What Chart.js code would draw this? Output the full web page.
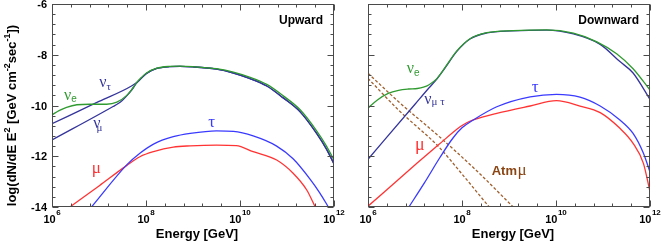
<!DOCTYPE html>
<html>
<head>
<meta charset="utf-8">
<script src="https://cdn.jsdelivr.net/npm/chart.js"></script>
<style>
html,body{margin:0;padding:0;background:#fff;}
#wrap{position:relative;width:664px;height:243px;}
canvas{position:absolute;left:0;top:0;}
</style>
</head>
<body>
<div id="wrap">
<canvas id="up" width="664" height="243"></canvas>
<canvas id="down" width="664" height="243"></canvas>
</div>
<script>
// ---------- DATA (x = log10 Energy [GeV], y = log10 flux) ----------
const xTickValues = [6, 8, 10, 12];
const xTickBase = ['10', '10', '10', '10'];
const xTickExp = ['6', '8', '10', '12'];
const yTickValues = [-14, -12, -10, -8, -6];
const yTickLabels = ['-14', '-12', '-10', '-8', '-6'];

// Upward panel
const upNuE_x = [6.0, 6.15, 6.31, 6.53, 6.81, 7.16, 7.38, 7.59, 7.70, 7.80, 7.90, 8.01, 8.23, 8.5, 8.72, 9.0, 9.5, 9.86, 10.2, 10.57, 10.92, 11.28, 11.63, 11.84, 12.0];
const upNuE_y = [-10.37, -10.2, -10.07, -9.97, -9.95, -9.95, -9.87, -9.6, -9.36, -9.1, -8.9, -8.72, -8.53, -8.46, -8.45, -8.47, -8.55, -8.68, -8.88, -9.17, -9.62, -10.17, -11.0, -11.6, -12.15];
const upNuTau_x = [6.0, 7.0, 7.7, 7.85, 8.01];
const upNuTau_y = [-10.72, -9.84, -9.22, -9.02, -8.74];
const upNuMu_x = [6.0, 7.3, 7.41, 7.5, 7.59, 7.70, 7.80, 7.90, 8.01];
const upNuMu_y = [-11.36, -10.04, -9.92, -9.79, -9.62, -9.38, -9.12, -8.92, -8.74];
const upNuTail_x = [8.23, 8.5, 8.72, 9.0, 9.5, 9.86, 10.2, 10.57, 10.92, 11.28, 11.63, 11.84, 12.0];
const upNuTail_y = [-8.54, -8.47, -8.46, -8.48, -8.57, -8.72, -8.93, -9.23, -9.70, -10.25, -11.10, -11.72, -12.3];
const upTau_x = [6.84, 7.6, 7.87, 8.16, 8.58, 8.94, 9.5, 9.86, 10.28, 10.78, 11.13, 11.49, 11.70, 11.88];
const upTau_y = [-14.0, -12.32, -11.88, -11.52, -11.23, -11.1, -11.0, -11.02, -11.2, -11.6, -12.1, -12.9, -13.45, -14.0];
const upMu_x = [6.38, 7.0, 7.6, 7.87, 8.16, 8.58, 8.94, 9.5, 9.92, 10.28, 10.78, 11.13, 11.42, 11.60];
const upMu_y = [-14.0, -13.17, -12.35, -12.02, -11.82, -11.64, -11.59, -11.56, -11.58, -11.82, -12.15, -12.67, -13.33, -14.0];

// Downward panel
const downNuE_x = [6.0, 6.2, 6.43, 6.65, 6.86, 7.05, 7.18, 7.3, 7.46, 7.64, 7.89, 8.17, 8.53, 9.09, 9.8, 10.37, 10.87, 11.29, 11.64, 12.0];
const downNuE_y = [-10.1, -9.78, -9.52, -9.40, -9.35, -9.33, -9.28, -9.18, -8.95, -8.5, -7.85, -7.37, -7.13, -7.05, -7.02, -7.15, -7.49, -7.96, -8.55, -9.39];
const downNuMuTau_x = [6.0, 7.0, 7.3, 7.46, 7.64, 7.89, 8.17, 8.53, 9.09, 9.8, 10.37, 10.94, 11.36, 11.64, 12.0];
const downNuMuTau_y = [-12.12, -9.95, -9.3, -8.97, -8.52, -7.87, -7.38, -7.14, -7.06, -7.03, -7.18, -7.59, -8.27, -8.72, -9.76];
const downTau_x = [6.87, 7.2, 7.53, 7.8, 8.0, 8.24, 8.74, 9.45, 10.01, 10.51, 10.94, 11.36, 11.64, 11.86, 12.0];
const downTau_y = [-14.0, -13.05, -12.05, -11.3, -10.88, -10.57, -10.05, -9.66, -9.56, -9.67, -10.02, -10.57, -11.1, -11.88, -12.62];
const downMu_x = [6.0, 7.04, 7.5, 7.96, 8.1, 8.24, 8.74, 9.45, 10.01, 10.51, 10.94, 11.36, 11.64, 11.86, 12.0];
const downMu_y = [-13.97, -12.28, -11.55, -10.84, -10.68, -10.57, -10.31, -10.02, -9.81, -10.02, -10.28, -10.9, -11.49, -12.28, -13.4];
const atmMuHigh_x = [6.0, 6.65, 7.5, 8.3, 9.09, 9.2];
const atmMuHigh_y = [-8.73, -9.85, -11.2, -12.55, -14.0, -14.2];
const atmMuLow_x = [6.0, 6.65, 7.5, 8.0, 8.58, 8.65];
const atmMuLow_y = [-8.93, -10.18, -11.62, -12.7, -14.0, -14.15];

// ---------- STYLE ----------
const SANS = "'Liberation Sans', Arial, Helvetica, sans-serif";
const SERIF = "'Liberation Serif', 'Times New Roman', serif";
const C_GREEN = '#2f9a2f';
const C_NAVY = '#34349c';
const C_BLUE = '#3a3aff';
const C_RED = '#ff3333';
const C_BROWN = '#a0602f';
const C_FRAME = '#4a4a4a';

function pts(xs, ys) { return xs.map((x, i) => ({x: x, y: ys[i]})); }
function ds(xs, ys, color, dash) {
  return {
    data: pts(xs, ys), borderColor: color, borderWidth: 1.3,
    borderDash: dash || [], pointRadius: 0, fill: false,
    cubicInterpolationMode: 'monotone'
  };
}

const framePlugin = {
  id: 'frame',
  afterDraw(chart, args, o) {
    const {ctx, chartArea: a, scales: {x, y}} = chart;
    ctx.save();
    ctx.strokeStyle = C_FRAME;
    ctx.lineWidth = 1;
    const L = Math.round(a.left) + 0.5, R = Math.round(a.right) - 0.5;
    const T = Math.round(a.top) + 0.5, B = Math.round(a.bottom) - 0.5;
    ctx.strokeRect(L, T, R - L, B - T);
    ctx.beginPath();
    for (let k = 0; k <= 15; k++) {
      const v = 6 + 0.4 * k;
      const len = (k % 5 === 0) ? 6 : 3;
      const px = Math.round(x.getPixelForValue(v)) + 0.5;
      ctx.moveTo(px, B); ctx.lineTo(px, B - len);
      ctx.moveTo(px, T); ctx.lineTo(px, T + len);
    }
    for (let k = 0; k <= 20; k++) {
      const v = -14 + 0.4 * k;
      const len = (k % 5 === 0) ? 6 : 3;
      const py = Math.round(y.getPixelForValue(v)) + 0.5;
      ctx.moveTo(L, py); ctx.lineTo(L + len, py);
      ctx.moveTo(R, py); ctx.lineTo(R - len, py);
    }
    ctx.stroke();

    ctx.fillStyle = '#000';
    ctx.textAlign = 'left';
    ctx.textBaseline = 'alphabetic';
    // x tick labels with superscripts
    xTickValues.forEach((v, i) => {
      const px = x.getPixelForValue(v);
      ctx.font = 'bold 11px ' + SANS;
      const wb = ctx.measureText(xTickBase[i]).width;
      ctx.font = 'bold 8px ' + SANS;
      const we = ctx.measureText(xTickExp[i]).width;
      const start = px - (wb + we + 0.5) / 2;
      ctx.font = 'bold 11px ' + SANS;
      ctx.fillText(xTickBase[i], start, 222.5);
      ctx.font = 'bold 8px ' + SANS;
      ctx.fillText(xTickExp[i], start + wb + 0.5, 214.5);
    });
    // x title
    ctx.font = 'bold 13px ' + SANS;
    ctx.textAlign = 'center';
    ctx.fillText('Energy [GeV]', (a.left + a.right) / 2 + 4, 237.7);
    // panel name
    ctx.textAlign = 'right';
    ctx.font = 'bold 12px ' + SANS;
    ctx.fillText(o.name, a.right - 11, 24);

    if (o.yLabels) {
      ctx.font = 'bold 11px ' + SANS;
      ctx.textAlign = 'right';
      yTickValues.forEach((v, i) => {
        ctx.fillText(yTickLabels[i], a.left - 5, y.getPixelForValue(v) + 4);
      });
      // y title (rotated, with superscripts)
      const segs = [['log(dN/dE E', 0], ['2', 1], [' [GeV cm', 0], ['-2', 1], ['sec', 0], ['-1', 1], ['])', 0]];
      const fMain = 'bold 13px ' + SANS, fSup = 'bold 9px ' + SANS;
      let total = 0;
      segs.forEach(s => { ctx.font = s[1] ? fSup : fMain; total += ctx.measureText(s[0]).width; });
      ctx.save();
      ctx.translate(15.5, (a.top + a.bottom) / 2 + 10);
      ctx.rotate(-Math.PI / 2);
      ctx.textAlign = 'left';
      let cx = -total / 2;
      segs.forEach(s => {
        ctx.font = s[1] ? fSup : fMain;
        ctx.fillText(s[0], cx, s[1] ? -5.5 : 0);
        cx += ctx.measureText(s[0]).width;
      });
      ctx.restore();
    }

    // curve labels
    ctx.textAlign = 'left';
    (o.labels || []).forEach(lb => {
      const px = x.getPixelForValue(lb.x), py = y.getPixelForValue(lb.y);
      ctx.fillStyle = lb.color;
      let cx = px;
      lb.parts.forEach(p => {
        ctx.font = p.font;
        ctx.fillText(p.t, cx + (p.dx || 0), py + (p.dy || 0));
        cx += ctx.measureText(p.t).width + (p.dx || 0);
      });
    });
    ctx.restore();
  }
};

function makeChart(id, datasets, yWidth, padRight, opts) {
  return new Chart(document.getElementById(id), {
    type: 'line',
    data: {datasets: datasets},
    options: {
      responsive: false, animation: false, devicePixelRatio: 1,
      layout: {padding: {left: 0, right: padRight, top: 4, bottom: 0}},
      plugins: {legend: {display: false}, tooltip: {enabled: false}, frame: opts},
      scales: {
        x: {type: 'linear', min: 6, max: 12, afterFit: s => { s.height = 36; },
            ticks: {display: false}, grid: {display: false}, border: {display: false}},
        y: {type: 'linear', min: -14, max: -6, afterFit: s => { s.width = yWidth; },
            ticks: {display: false}, grid: {display: false}, border: {display: false}}
      }
    },
    plugins: [framePlugin]
  });
}

const nuFont = '16px ' + SERIF;
makeChart('up', [
  ds(upNuE_x, upNuE_y, C_GREEN),
  ds(upNuTau_x.concat(upNuTail_x), upNuTau_y.concat(upNuTail_y), C_NAVY),
  ds(upNuMu_x.concat(upNuTail_x), upNuMu_y.concat(upNuTail_y), C_NAVY),
  ds(upTau_x, upTau_y, C_BLUE),
  ds(upMu_x, upMu_y, C_RED)
], 52, 330, {
  name: 'Upward', yLabels: true,
  labels: [
    {x: 6.255, y: -9.764, color: C_GREEN, parts: [{t: 'ν', font: nuFont}, {t: 'e', font: '10px ' + SANS, dy: 2.5}]},
    {x: 7.006, y: -9.283, color: C_NAVY, parts: [{t: 'ν', font: nuFont}, {t: 'τ', font: '11px ' + SERIF, dy: 2.5}]},
    {x: 6.879, y: -10.899, color: C_NAVY, parts: [{t: 'ν', font: nuFont}, {t: 'μ', font: '11px ' + SERIF, dx: -4, dy: 3}]},
    {x: 9.326, y: -10.835, color: C_BLUE, parts: [{t: 'τ', font: '17px ' + SERIF}]},
    {x: 6.845, y: -12.672, color: C_RED, parts: [{t: 'μ', font: '17px ' + SERIF}]}
  ]
});

makeChart('down', [
  ds(downNuE_x, downNuE_y, C_GREEN),
  ds(downNuMuTau_x, downNuMuTau_y, C_NAVY),
  ds(downTau_x, downTau_y, C_BLUE),
  ds(downMu_x, downMu_y, C_RED),
  ds(atmMuHigh_x, atmMuHigh_y, C_BROWN, [3, 2]),
  ds(atmMuLow_x, atmMuLow_y, C_BROWN, [3, 2])
], 368, 14, {
  name: 'Downward', yLabels: false,
  labels: [
    {x: 6.823, y: -8.731, color: C_GREEN, parts: [{t: 'ν', font: nuFont}, {t: 'e', font: '10px ' + SANS, dy: 3}]},
    {x: 7.198, y: -9.953, color: C_NAVY, parts: [{t: 'ν', font: nuFont}, {t: 'μ τ', font: '11px ' + SERIF, dy: 1}]},
    {x: 9.483, y: -9.456, color: C_BLUE, parts: [{t: 'τ', font: '17px ' + SERIF}]},
    {x: 7.0, y: -11.754, color: C_RED, parts: [{t: 'μ', font: '18px ' + SERIF}]},
    {x: 8.632, y: -12.739, color: '#8b4513', parts: [{t: 'Atm', font: 'bold 13px ' + SANS}, {t: 'μ', font: '17px ' + SERIF, dx: 0.5}]}
  ]
});
</script>
</body>
</html>
